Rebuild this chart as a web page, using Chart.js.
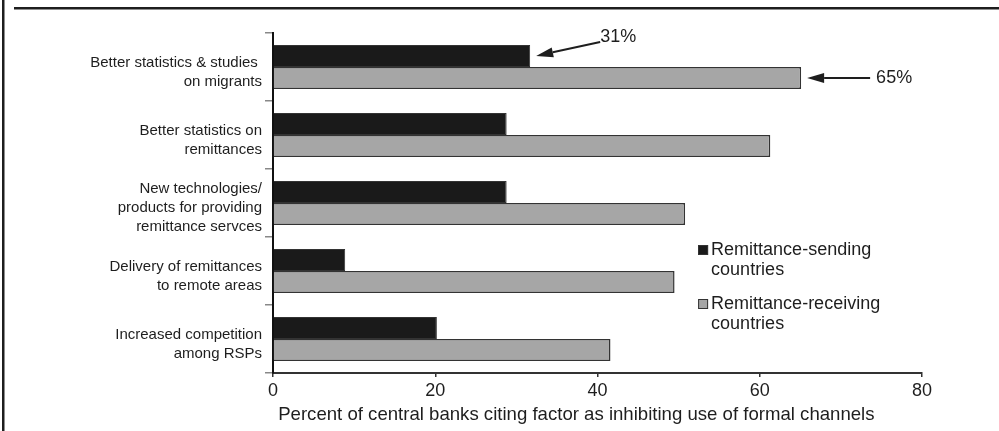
<!DOCTYPE html>
<html>
<head>
<meta charset="utf-8">
<script src="https://cdn.jsdelivr.net/npm/chart.js@4/dist/chart.umd.min.js"></script>
<style>
  html, body { margin: 0; padding: 0; background: #fff; }
  #wrap { width: 999px; height: 431px; position: relative; }
</style>
</head>
<body>
<div id="wrap"><canvas id="myChart"></canvas></div>
<script>
// chart data
const categories = [
    ['Better statistics & studies ', 'on migrants'],
    ['Better statistics on', 'remittances'],
    ['New technologies/', 'products for providing', 'remittance servces'],
    ['Delivery of remittances', 'to remote areas'],
    ['Increased competition', 'among RSPs']
];
const sendingValues = [31.7, 28.8, 28.8, 8.9, 20.2];
const receivingValues = [65.1, 61.3, 50.8, 49.5, 41.6];
const seriesNames = [['Remittance-sending', 'countries'], ['Remittance-receiving', 'countries']];
const xTicks = [0, 20, 40, 60, 80];
const callouts = [
    { series: 0, index: 0, text: '31%' },
    { series: 1, index: 0, text: '65%' }
];

const FONT = "'Liberation Sans', Arial, sans-serif";
const INK = '#1e1e1e';

function arrow(ctx, x1, y1, x2, y2) {
    // line from (x1,y1) to tip (x2,y2) with filled head
    const ang = Math.atan2(y2 - y1, x2 - x1);
    const len = 17, half = 5;
    const bx = x2 - len * Math.cos(ang), by = y2 - len * Math.sin(ang);
    ctx.beginPath();
    ctx.moveTo(x1, y1);
    ctx.lineTo(bx, by);
    ctx.lineWidth = 2;
    ctx.strokeStyle = INK;
    ctx.stroke();
    ctx.beginPath();
    ctx.moveTo(x2, y2);
    ctx.lineTo(bx - half * Math.sin(ang), by + half * Math.cos(ang));
    ctx.lineTo(bx + half * Math.sin(ang), by - half * Math.cos(ang));
    ctx.closePath();
    ctx.fillStyle = INK;
    ctx.fill();
}

const extras = {
    id: 'extras',
    afterDraw(chart) {
        const ctx = chart.ctx;
        ctx.save();

        // frame (left and top edges only)
        ctx.fillStyle = INK;
        ctx.fillRect(2, 0, 2.5, 431);
        ctx.fillRect(14, 7, 985, 2.5);

        // callout arrows, placed from the bar ends
        ctx.font = '18px ' + FONT;
        ctx.textBaseline = 'middle';
        ctx.textAlign = 'left';
        callouts.forEach(c => {
            const bar = chart.getDatasetMeta(c.series).data[c.index];
            const endX = bar.x, y = bar.y;
            if (c.series === 0) {
                arrow(ctx, endX + 70, y - 14, endX + 6, y);
                ctx.fillStyle = INK;
                ctx.fillText(c.text, endX + 70, y - 19);
            } else {
                arrow(ctx, endX + 69, y, endX + 6, y);
                ctx.fillStyle = INK;
                ctx.fillText(c.text, endX + 75, y);
            }
        });

        // legend inside the plot
        const lx = chart.scales.x.getPixelForValue(52.4);
        const rows = [[250, 270], [304, 324]];
        ctx.font = '18px ' + FONT;
        chart.data.datasets.forEach((ds, i) => {
            ctx.fillStyle = ds.backgroundColor;
            ctx.strokeStyle = '#333';
            ctx.lineWidth = 1;
            ctx.fillRect(lx, rows[i][0] - 5, 10, 10);
            ctx.strokeRect(lx + 0.5, rows[i][0] - 4.5, 9, 9);
            ctx.fillStyle = INK;
            seriesNames[i].forEach((line, k) => {
                ctx.fillText(line, lx + 13, rows[i][k]);
            });
        });
        ctx.restore();
    }
};

const ctx = document.getElementById('myChart').getContext('2d');
const myChart = new Chart(ctx, {
    type: 'bar',
    data: {
        labels: categories,
        datasets: [{
            label: seriesNames[0].join(' '),
            data: sendingValues,
            backgroundColor: '#1a1a1a',
            borderColor: '#333',
            borderWidth: 1
        }, {
            label: seriesNames[1].join(' '),
            data: receivingValues,
            backgroundColor: '#a6a6a6',
            borderColor: '#333',
            borderWidth: 1.5
        }]
    },
    options: {
        indexAxis: 'y',
        responsive: true,
        maintainAspectRatio: false,
        animation: false,
        categoryPercentage: 0.65,
        barPercentage: 1.0,
        layout: { padding: { top: 33, right: 77, bottom: 0, left: 0 } },
        plugins: {
            legend: { display: false },
            tooltip: { enabled: false }
        },
        scales: {
            x: {
                min: 0,
                max: 80,
                afterBuildTicks: axis => { axis.ticks = xTicks.map(v => ({ value: v })); },
                afterFit: axis => { axis.height = 58; },
                border: { color: '#333', width: 2 },
                grid: { drawOnChartArea: false, tickLength: 4, color: '#333', lineWidth: 1.5 },
                ticks: { font: { family: FONT, size: 18 }, color: INK, padding: 3 },
                title: {
                    display: true,
                    text: ' Percent of central banks citing factor as inhibiting use of formal channels',
                    align: 'start',
                    font: { family: FONT, size: 18.6 },
                    color: INK,
                    padding: { top: 0, bottom: 5 }
                }
            },
            y: {
                afterFit: axis => { axis.width = 273; },
                border: { color: '#111', width: 2 },
                grid: { drawOnChartArea: false, tickLength: 8, color: '#888', lineWidth: 1.5 },
                ticks: {
                    font: { family: FONT, size: 15, lineHeight: 1.25 },
                    color: INK,
                    padding: 3,
                    labelOffset: 5
                }
            }
        }
    },
    plugins: [extras]
});
</script>
</body>
</html>
